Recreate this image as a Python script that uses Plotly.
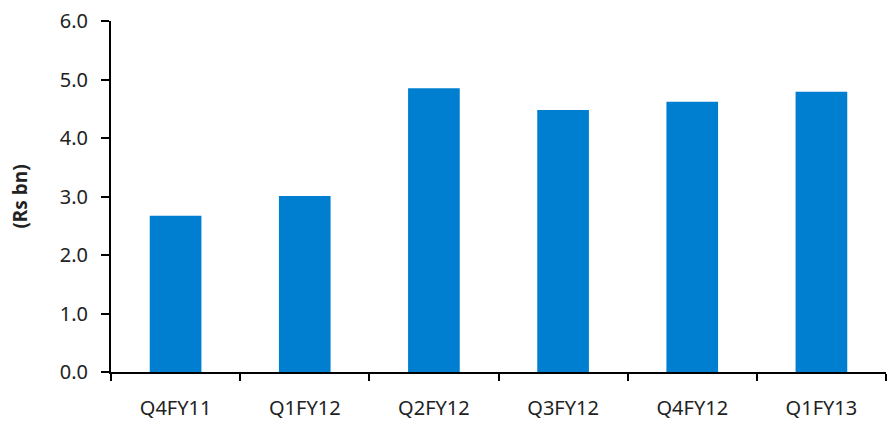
import plotly.graph_objects as go

categories = ["Q4FY11", "Q1FY12", "Q2FY12", "Q3FY12", "Q4FY12", "Q1FY13"]
values = [2.67, 3.01, 4.85, 4.48, 4.62, 4.79]
y_ticks = [0, 1, 2, 3, 4, 5, 6]
y_tick_labels = ["0.0", "1.0", "2.0", "3.0", "4.0", "5.0", "6.0"]

fig = go.Figure(go.Bar(x=categories, y=values, marker_color="#007ED0",
                       marker_line_width=0))

fig.update_layout(
    width=892, height=426,
    margin=dict(l=111, r=6, t=21, b=54),
    paper_bgcolor="white", plot_bgcolor="white",
    bargap=0.6,
    showlegend=False,
    font=dict(family="Noto Sans", size=20, color="#222222"),
)
fig.update_xaxes(
    showline=True, linecolor="black", linewidth=2,
    ticks="outside", tickson="boundaries", ticklen=7, tickwidth=2, tickcolor="black",
    ticklabelstandoff=17,
    showgrid=False,
)
fig.update_yaxes(
    range=[0, 6], tickvals=y_ticks, ticktext=y_tick_labels,
    showline=True, linecolor="black", linewidth=2,
    ticks="outside", ticklen=8, tickwidth=2, tickcolor="black",
    ticklabelstandoff=9,
    showgrid=False, zeroline=False,
    title=dict(text="<b>(Rs bn)</b>", font=dict(size=19, color="#222222"), standoff=27),
)

fig.write_html("out.html")
